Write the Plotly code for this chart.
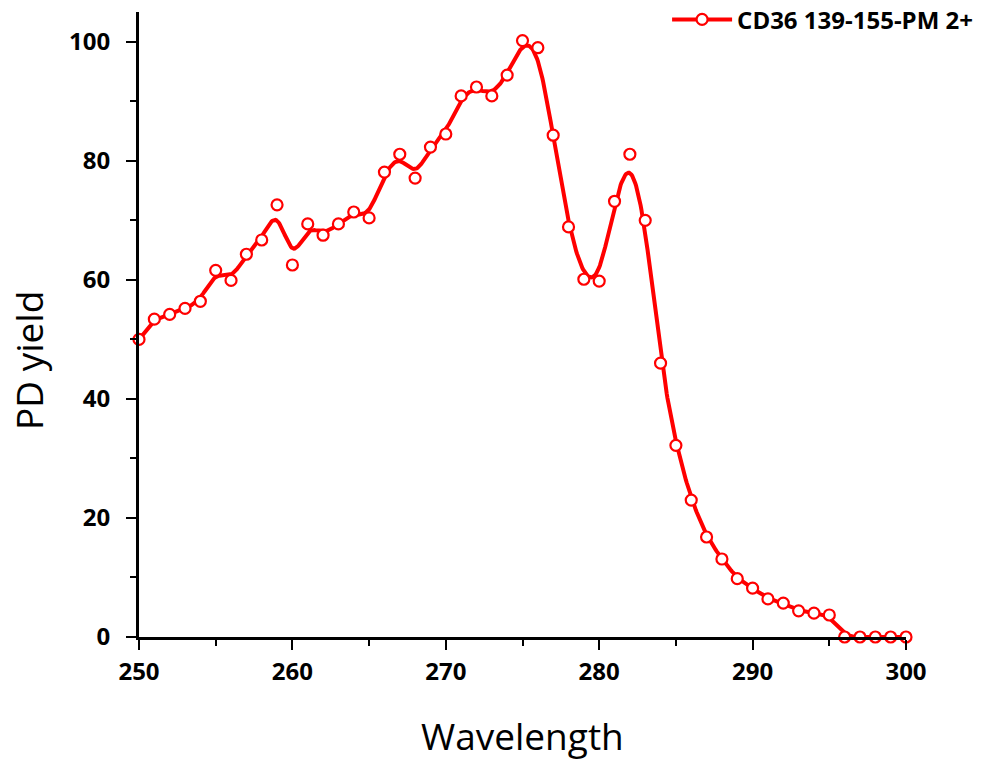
import numpy as np
import plotly.graph_objects as go

wavelength = list(range(250, 301))
pd_yield = [50.0, 53.4, 54.2, 55.2, 56.4, 61.6, 59.9, 64.3, 66.7, 72.6,
            62.5, 69.4, 67.5, 69.4, 71.4, 70.4, 78.1, 81.1, 77.1, 82.3,
            84.5, 90.9, 92.4, 90.9, 94.4, 100.2, 99.0, 84.3, 68.9, 60.1,
            59.8, 73.2, 81.1, 70.0, 46.0, 32.2, 23.0, 16.8, 13.1, 9.8,
            8.2, 6.4, 5.7, 4.4, 4.0, 3.7, 0.0, 0.0, 0.0, 0.0, 0.0]
series_name = "CD36 139-155-PM 2+"
x_ticks = [250, 260, 270, 280, 290, 300]
y_ticks = [0, 20, 40, 60, 80, 100]

RED = "#ff0000"


def bspline(px, py, n=20):
    # uniform cubic B-spline using data points as control points (clamped ends)
    px = np.concatenate([[px[0]] * 2, px, [px[-1]] * 2])
    py = np.concatenate([[py[0]] * 2, py, [py[-1]] * 2])
    t = np.linspace(0, 1, n, endpoint=False)
    b0 = (1 - t) ** 3 / 6
    b1 = (3 * t ** 3 - 6 * t ** 2 + 4) / 6
    b2 = (-3 * t ** 3 + 3 * t ** 2 + 3 * t + 1) / 6
    b3 = t ** 3 / 6
    xs, ys = [], []
    for i in range(len(px) - 3):
        xs.append(b0 * px[i] + b1 * px[i + 1] + b2 * px[i + 2] + b3 * px[i + 3])
        ys.append(b0 * py[i] + b1 * py[i + 1] + b2 * py[i + 2] + b3 * py[i + 3])
    xs = np.concatenate(xs + [[px[-1]]])
    ys = np.concatenate(ys + [[py[-1]]])
    return xs, ys


sx, sy = bspline(np.array(wavelength, float), np.array(pd_yield, float))

fig = go.Figure()
fig.add_trace(go.Scatter(x=sx, y=sy, mode="lines",
                         line=dict(color=RED, width=4),
                         showlegend=False, hoverinfo="skip"))
fig.add_trace(go.Scatter(x=wavelength, y=pd_yield, mode="markers",
                         marker=dict(symbol="circle", size=11, color="white",
                                     line=dict(color=RED, width=2.2)),
                         showlegend=False, cliponaxis=False))
fig.add_trace(go.Scatter(x=[None], y=[None], mode="lines+markers", name=series_name,
                         line=dict(color=RED, width=4),
                         marker=dict(symbol="circle", size=11, color="white",
                                     line=dict(color=RED, width=2.2))))

tickfont = dict(family="Open Sans", size=24, color="black", weight="bold")
fig.update_layout(
    width=983, height=763,
    margin=dict(l=139, r=77, t=12, b=126, autoexpand=False),
    paper_bgcolor="white", plot_bgcolor="white",
    showlegend=True,
    legend=dict(xref="container", yref="container", x=0.995, xanchor="right",
                y=0.974, yanchor="middle",
                font=dict(family="Open Sans", size=24, color="black", weight="bold"),
                bgcolor="rgba(0,0,0,0)", borderwidth=0, itemwidth=60),
    xaxis=dict(range=[250, 300], tickvals=x_ticks, ticks="outside", ticklen=10,
               tickwidth=2, tickcolor="black", showline=True, linecolor="black",
               linewidth=3, showgrid=False, zeroline=False, tickfont=tickfont,
               minor=dict(dtick=5, ticks="outside", ticklen=6, tickwidth=2,
                          tickcolor="black", showgrid=False),
               ticklabelstandoff=1, automargin=False),
    yaxis=dict(range=[0, 105], tickvals=y_ticks, ticks="outside", ticklen=10,
               tickwidth=2, tickcolor="black", showline=True, linecolor="black",
               linewidth=3, showgrid=False, zeroline=False, tickfont=tickfont,
               minor=dict(dtick=10, ticks="outside", ticklen=6, tickwidth=2,
                          tickcolor="black", showgrid=False),
               ticklabelstandoff=11, automargin=False),
    annotations=[
        dict(text="Wavelength", xref="paper", yref="paper", x=0.5, y=-0.1568,
             xanchor="center", yanchor="middle", showarrow=False,
             font=dict(family="Open Sans", size=37, color="black")),
        dict(text="PD yield", xref="paper", yref="paper", x=-0.1447, y=0.4416,
             xanchor="center", yanchor="middle", showarrow=False, textangle=-90,
             font=dict(family="Open Sans", size=37, color="black")),
    ],
)

fig.write_html("out.html")
